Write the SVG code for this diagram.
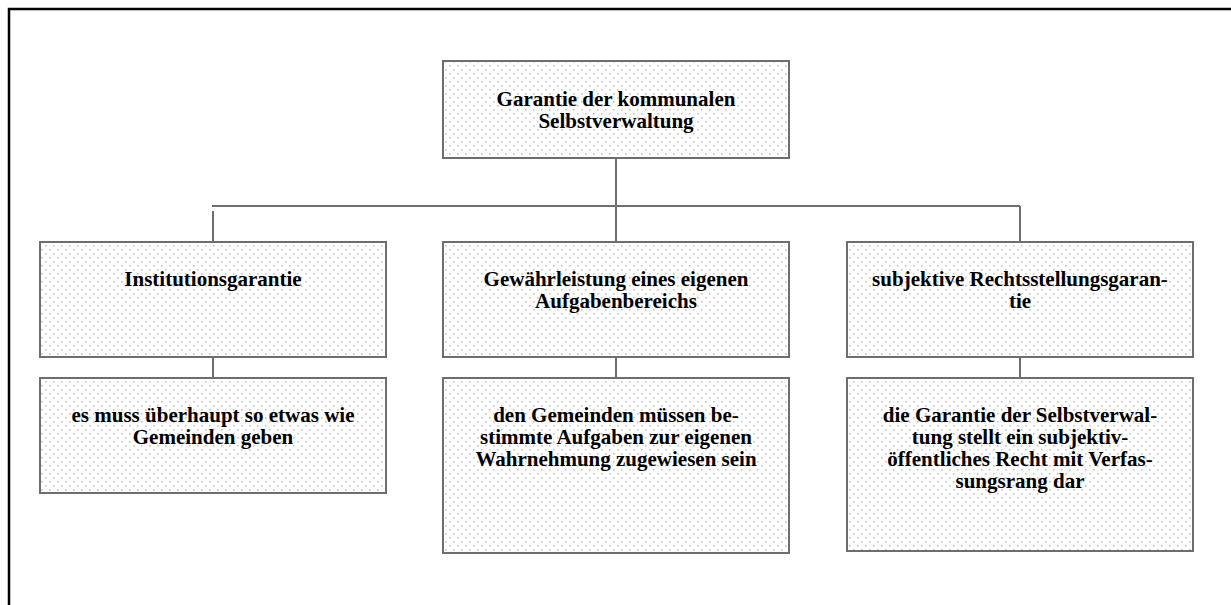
<svg xmlns="http://www.w3.org/2000/svg" width="1231" height="605" viewBox="0 0 1231 605">
  <defs>
    <!-- light dotted screen used as box fill -->
    <pattern id="dots" width="8" height="8" patternUnits="userSpaceOnUse">
      <rect width="8" height="8" fill="#ffffff"/>
      <rect x="1" y="1" width="1.6" height="1.6" fill="#c6c6c6"/>
      <rect x="5" y="5" width="1.6" height="1.6" fill="#c6c6c6"/>
    </pattern>
    <style>
      .box { fill: url(#dots); stroke: #6e6e6e; stroke-width: 2; }
      .lbl { font-family: "Liberation Serif", "Times New Roman", serif; font-weight: bold; font-size: 21px; fill: #000; text-anchor: middle; }
      .conn { stroke: #6e6e6e; stroke-width: 2; fill: none; }
    </style>
  </defs>

  <rect width="1231" height="605" fill="#ffffff"/>
  <!-- page frame -->
  <rect x="9" y="9" width="1240" height="620" fill="none" stroke="#000" stroke-width="2.5"/>

  <g id="connectors">
    <line class="conn" x1="616" y1="158" x2="616" y2="206"/>
    <line class="conn" x1="212" y1="206" x2="1020" y2="206"/>
    <line class="conn" x1="213" y1="211" x2="213" y2="242"/>
    <line class="conn" x1="616" y1="206" x2="616" y2="242"/>
    <line class="conn" x1="1020" y1="206" x2="1020" y2="242"/>
    <line class="conn" x1="213" y1="357" x2="213" y2="378"/>
    <line class="conn" x1="616" y1="357" x2="616" y2="378"/>
    <line class="conn" x1="1020" y1="357" x2="1020" y2="378"/>
  </g>

  <g id="root">
    <rect class="box" x="443" y="61" width="346" height="97"/>
    <text class="lbl" x="616" y="106">Garantie der kommunalen</text>
    <text class="lbl" x="616" y="128">Selbstverwaltung</text>
  </g>

  <g id="institution">
    <rect class="box" x="40" y="242" width="346" height="115"/>
    <text class="lbl" x="213" y="286">Institutionsgarantie</text>
  </g>

  <g id="aufgaben">
    <rect class="box" x="443" y="242" width="346" height="115"/>
    <text class="lbl" x="616" y="286">Gewährleistung eines eigenen</text>
    <text class="lbl" x="616" y="308">Aufgabenbereichs</text>
  </g>

  <g id="rechtsstellung">
    <rect class="box" x="847" y="242" width="346" height="115"/>
    <text class="lbl" x="1020" y="286">subjektive Rechtsstellungsgaran-</text>
    <text class="lbl" x="1020" y="308">tie</text>
  </g>

  <g id="institution-detail">
    <rect class="box" x="40" y="378" width="346" height="115"/>
    <text class="lbl" x="213" y="422">es muss überhaupt so etwas wie</text>
    <text class="lbl" x="213" y="444">Gemeinden geben</text>
  </g>

  <g id="aufgaben-detail">
    <rect class="box" x="443" y="378" width="346" height="175"/>
    <text class="lbl" x="616" y="422">den Gemeinden müssen be-</text>
    <text class="lbl" x="616" y="444">stimmte Aufgaben zur eigenen</text>
    <text class="lbl" x="616" y="466">Wahrnehmung zugewiesen sein</text>
  </g>

  <g id="rechtsstellung-detail">
    <rect class="box" x="847" y="378" width="346" height="173"/>
    <text class="lbl" x="1020" y="422">die Garantie der Selbstverwal-</text>
    <text class="lbl" x="1020" y="444">tung stellt ein subjektiv-</text>
    <text class="lbl" x="1020" y="466">öffentliches Recht mit Verfas-</text>
    <text class="lbl" x="1020" y="488">sungsrang dar</text>
  </g>
</svg>
